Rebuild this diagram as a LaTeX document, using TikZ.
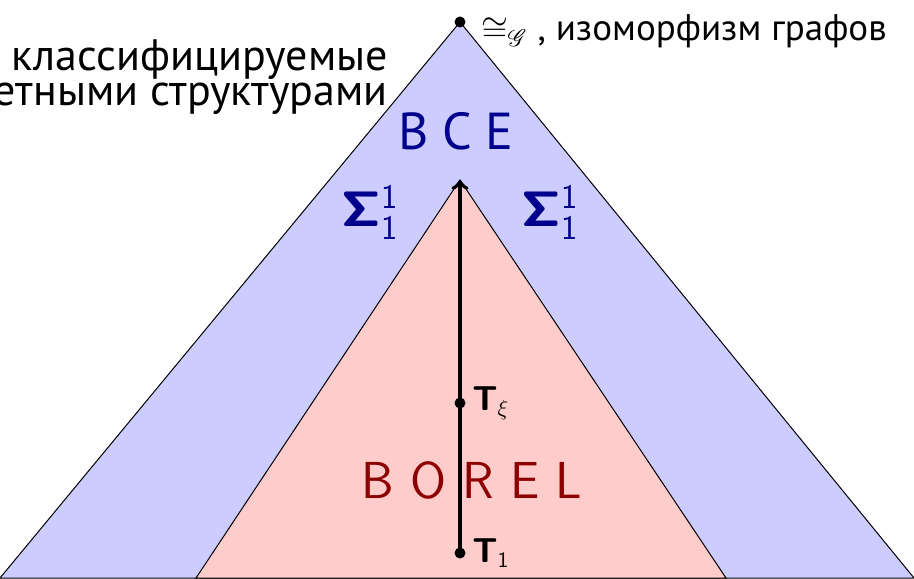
\documentclass[tikz,border=0pt]{standalone}
\usepackage{amsmath,amssymb}
\usepackage{mathrsfs}
\usepackage{fontspec}
\usepackage{xcolor}
\usepackage{tikz}
\newfontfamily\rusfont{PT Sans}
\DeclareMathAlphabet{\mathsfbf}{OT1}{cmss}{bx}{n}
\DeclareMathAlphabet{\mathsfrm}{OT1}{cmss}{m}{n}
\colorlet{allfill}{blue!20}
\colorlet{borelfill}{red!20}
\colorlet{alltext}{blue!55!black}
\colorlet{boreltext}{red!55!black}
\newcommand{\SigmaOneOne}{\mathsfbf{\Sigma}^{\mathsfrm{1}}_{\mathsfrm{1}}}

\begin{document}
\begin{tikzpicture}[x=0.5pt, y=0.5pt,
  dot/.style={circle, fill=black, inner sep=0pt, minimum size=5.5pt},
  bigword/.style={font=\fontsize{26}{28}\selectfont},
  sigmalabel/.style={text=alltext, font=\fontsize{27}{29}\selectfont},
  tlabel/.style={font=\fontsize{16}{18}\selectfont, inner sep=3pt},
  countword/.style={anchor=base east, font=\fontsize{22}{24}\selectfont\rusfont}]
  \useasboundingbox (0,0) rectangle (914,578);
  % outer triangle: everything
  \filldraw[fill=allfill, draw=black, line width=0.5pt] (0,0) -- (914,0) -- (460,556) -- cycle;
  % inner triangle: borel
  \filldraw[fill=borelfill, draw=black, line width=0.5pt] (196,0) -- (726,0) -- (460,398) -- cycle;
  \coordinate (borelTop) at (460,398);
  % labels of the regions
  \node[bigword, text=alltext, anchor=base] (allWord) at (456,428) {\rusfont В С Е};
  \node[sigmalabel] (sigmaLeft) at (370,365) {$\SigmaOneOne$};
  \node[sigmalabel] (sigmaRight) at (550,365) {$\SigmaOneOne$};
  \node[bigword, text=boreltext, anchor=base] (borelWord) at (472,80) {\sffamily B O R E L};
  % chain of the T's
  \node[dot] (tOne) at (460,25) {};
  \node[tlabel, anchor=west] (tOneLabel) at (tOne.east) {$\mathsfbf{T}_{\mathsfrm{1}}$};
  \node[dot] (tXi) at (460,175) {};
  \node[tlabel, anchor=west] (tXiLabel) at (tXi.east) {$\mathsfbf{T}_\xi$};
  \draw[->, line width=2pt] (tOne.center) -- (borelTop);
  % top: graph isomorphism
  \node[dot] (iso) at (460,556) {};
  \node[anchor=base west, font=\fontsize{18.5}{20}\selectfont\rusfont] (isoLabel) at (474,537)
    {$\cong_{\mathscr{G}}$ , изоморфизм графов};
  \node[countword] (countTop) at (395,507) {классифицируемые};
  \node[countword] (countBottom) at (395,472) {счетными структурами};
\end{tikzpicture}
\end{document}
